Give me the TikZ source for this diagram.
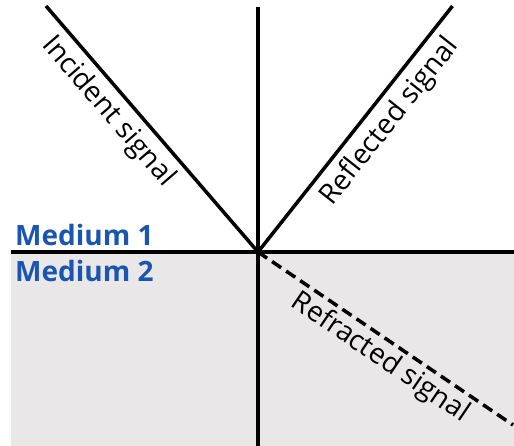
\documentclass[tikz,border=0pt]{standalone}
\usepackage{fontspec}
\setmainfont{Open Sans}
\begin{document}
\begin{tikzpicture}[x=1pt,y=-1pt,
  ray/.style={line width=3.5pt},
  dashray/.style={line width=3.5pt,dash pattern=on 11pt off 6pt},
  lbl/.style={font=\fontsize{28}{31}\selectfont,inner sep=0pt,anchor=center},
  medium/.style={font=\bfseries\fontsize{28}{31}\selectfont,text=mblue,inner sep=0pt,anchor=west}]
\definecolor{mblue}{HTML}{1A56B0}
\definecolor{mgray}{HTML}{EAE7E9}
\useasboundingbox (0,0) rectangle (514,446);
\coordinate (O) at (258,252);
\coordinate (L) at (11,252);
\coordinate (R) at (514,252);
\coordinate (T) at (258,7);
\coordinate (B) at (258,446);
\coordinate (I) at (46,6);
\coordinate (F) at (452.5,6);
\coordinate (D) at (513,425);
\fill[mgray] (11,252) rectangle (514,446);
\draw[ray] (L) -- (R);
\draw[ray] (T) -- (B);
\draw[ray] (I) -- (O);
\draw[ray] (O) -- (F);
\draw[dashray] (O) -- (D);
\node[lbl,rotate=-49.25] (inc) at (108,112) {Incident signal};
\node[lbl,rotate=51.7] (ref) at (390,122) {Reflected signal};
\node[lbl,rotate=-34.15] (rfr) at (380,358) {Refracted signal};
\node[medium] (m1) at (15,235) {Medium 1};
\node[medium] (m2) at (15,271) {Medium 2};
\end{tikzpicture}
\end{document}
